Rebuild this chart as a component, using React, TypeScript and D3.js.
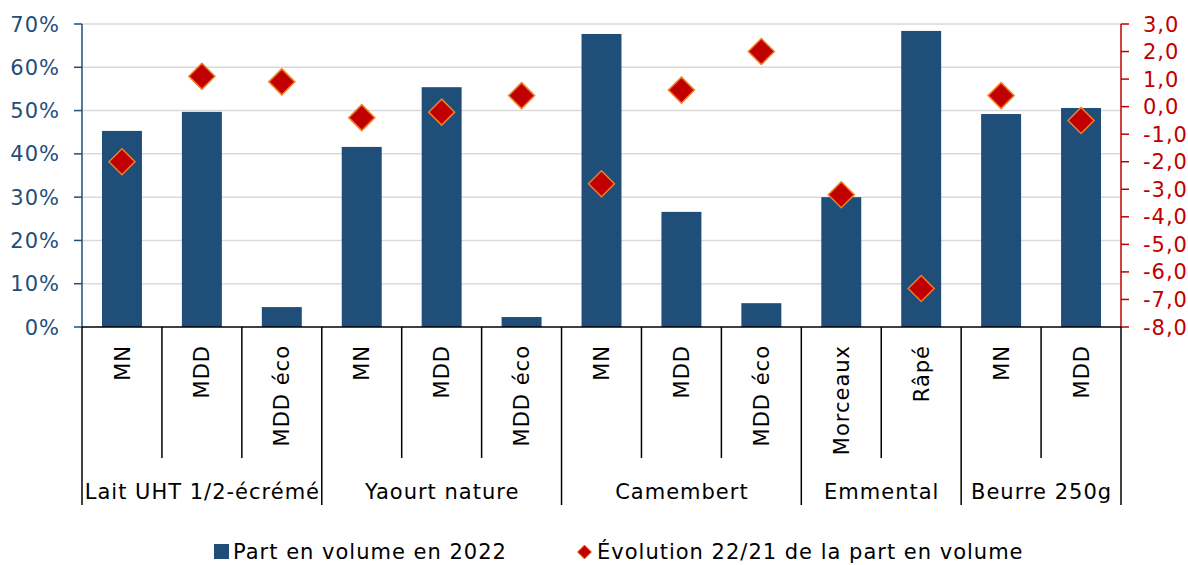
import React from "react";
import * as d3 from "d3";

const subCategories = ["MN", "MDD", "MDD éco", "MN", "MDD", "MDD éco", "MN", "MDD", "MDD éco", "Morceaux", "Râpé", "MN", "MDD"];
const groups = ["Lait UHT 1/2-écrémé", "Yaourt nature", "Camembert", "Emmental", "Beurre 250g"];
const groupSizes = [3, 3, 3, 2, 2];
const partVolume = [45.3, 49.7, 4.6, 41.6, 55.4, 2.3, 67.7, 26.6, 5.5, 30.0, 68.4, 49.2, 50.6];
const evolution = [-2.0, 1.1, 0.9, -0.4, -0.2, 0.4, -2.8, 0.6, 2.0, -3.2, -6.6, 0.4, -0.5];
const leftTicks = [0, 10, 20, 30, 40, 50, 60, 70];
const rightTicks = [3, 2, 1, 0, -1, -2, -3, -4, -5, -6, -7, -8];
const legendLabels = ["Part en volume en 2022", "Évolution 22/21 de la part en volume"];

const W = 1188, H = 565;
const left = 82, right = 1121, top = 24, bottom = 327;
const BLUE = "#1F4E79";
const RED = "#C00000";
const ORANGE = "#F07D28";
const FONT = "'DejaVu Sans', sans-serif";
const FS = 21;
const LS = 1;

export default function App() {
  const idx = subCategories.map((_, i) => i);
  const x = d3.scaleBand<number>().domain(idx).range([left, right]).paddingInner(0.5).paddingOuter(0.25);
  const step = x.step();
  const yL = d3.scaleLinear().domain([0, 70]).range([bottom, top]);
  const yR = d3.scaleLinear().domain([-8, 3]).range([bottom, top]);
  const cx = (i: number) => (x(i) as number) + x.bandwidth() / 2;
  const edge = (i: number) => left + i * step;

  const groupStarts: number[] = [];
  let acc = 0;
  groupSizes.forEach((s) => { groupStarts.push(acc); acc += s; });
  const groupBoundaries = new Set<number>([...groupStarts, acc]);

  const diamond = (s: number) => `M0,${-s}L${s},0L0,${s}L${-s},0Z`;

  return (
    <svg width={W} height={H} style={{ position: "absolute", left: 0, top: 0, background: "#fff" }} fontFamily={FONT} fontSize={FS} letterSpacing={LS}>
      {/* gridlines */}
      {leftTicks.filter((t) => t > 0).map((t) => (
        <line key={"g" + t} x1={left} x2={right} y1={yL(t)} y2={yL(t)} stroke="#D9D9D9" strokeWidth={1.5} />
      ))}
      {/* bars */}
      {partVolume.map((v, i) => (
        <rect key={"b" + i} x={x(i)} y={yL(v)} width={x.bandwidth()} height={yL(0) - yL(v)} fill={BLUE} />
      ))}
      {/* left axis */}
      <line x1={left} x2={left} y1={top} y2={bottom} stroke={BLUE} strokeWidth={1.5} />
      {leftTicks.map((t) => (
        <g key={"lt" + t}>
          <line x1={left - 8} x2={left} y1={yL(t)} y2={yL(t)} stroke={BLUE} strokeWidth={1.5} />
          <text x={60} y={yL(t)} dy="0.36em" textAnchor="end" fill={BLUE}>{t}%</text>
        </g>
      ))}
      {/* right axis */}
      <line x1={right} x2={right} y1={top} y2={bottom} stroke={RED} strokeWidth={1.5} />
      {rightTicks.map((t) => (
        <g key={"rt" + t}>
          <line x1={right} x2={right + 8} y1={yR(t)} y2={yR(t)} stroke={RED} strokeWidth={1.5} />
          <text x={1143} y={yR(t)} dy="0.36em" textAnchor="start" fill={RED}>{t.toFixed(1).replace(".", ",")}</text>
        </g>
      ))}
      {/* category axis */}
      <line x1={left} x2={right} y1={bottom} y2={bottom} stroke="#000" strokeWidth={1.5} />
      {d3.range(subCategories.length + 1).map((i) => (
        <line key={"ct" + i} x1={edge(i)} x2={edge(i)} y1={bottom} y2={groupBoundaries.has(i) ? 505 : 458} stroke="#000" strokeWidth={1.5} />
      ))}
      {subCategories.map((c, i) => (
        <text key={"sc" + i} transform={`translate(${cx(i)},345) rotate(-90)`} dy="0.36em" textAnchor="end" fill="#000">{c}</text>
      ))}
      {groups.map((g, gi) => {
        const s = groupStarts[gi];
        const mid = (edge(s) + edge(s + groupSizes[gi])) / 2;
        return <text key={"gr" + gi} x={mid + LS / 2} y={499} textAnchor="middle" fill="#000">{g}</text>;
      })}
      {/* diamonds */}
      {evolution.map((v, i) => (
        <path key={"d" + i} d={diamond(13)} transform={`translate(${cx(i)},${yR(v)})`} fill={RED} stroke={ORANGE} strokeWidth={1.5} />
      ))}
      {/* legend */}
      <rect x={214} y={544} width={15} height={15} fill={BLUE} />
      <text x={233} y={559} fill="#000">{legendLabels[0]}</text>
      <path d={diamond(7)} transform="translate(584.5,552)" fill={RED} stroke={ORANGE} strokeWidth={1} />
      <text x={597} y={559} fill="#000">{legendLabels[1]}</text>
    </svg>
  );
}
